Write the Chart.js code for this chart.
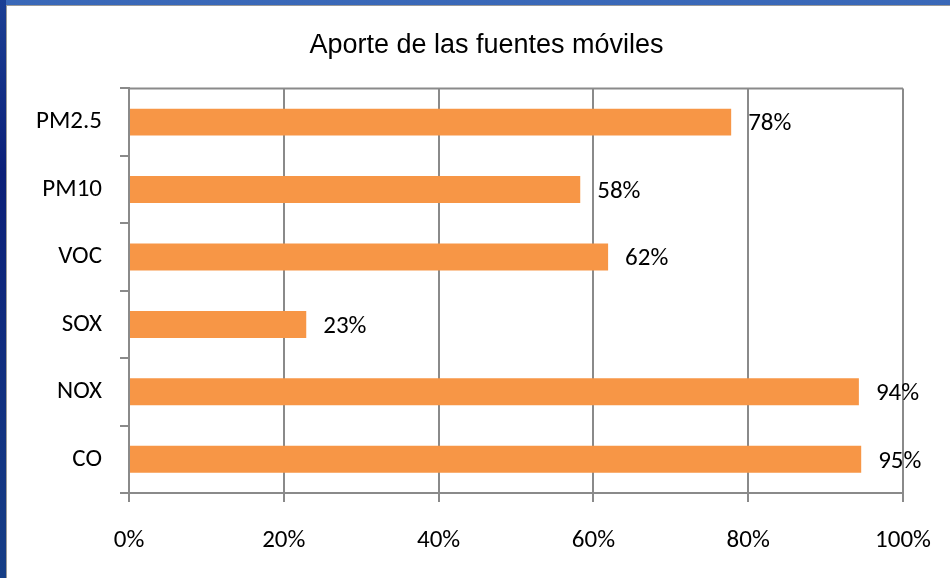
<!DOCTYPE html>
<html>
<head>
<meta charset="utf-8">
<script src="https://cdn.jsdelivr.net/npm/chart.js@4/dist/chart.umd.min.js"></script>
<style>
  html, body { margin: 0; padding: 0; overflow: hidden; }
  body {
    width: 950px; height: 578px; position: relative;
    background: linear-gradient(180deg, #3a68b8 0%, #2a55a8 40%, #17408e 100%);
  }
  #frame {
    position: absolute; left: 0; top: 0; width: 6px; height: 578px;
    background: linear-gradient(180deg, #1b3f94 0%, #0b1f78 30%, #163e86 100%);
  }
  #panel {
    position: absolute; left: 6px; top: 5px; width: 944px; height: 573px;
    background: #fff; border-left: 1px solid #9a9a9a; border-top: 1px solid #9a9a9a;
    box-sizing: border-box;
  }
  #wrap { position: absolute; left: 0; top: 0; width: 943px; height: 572px; }
</style>
</head>
<body>
<div id="frame"></div>
<div id="panel"><div id="wrap"><canvas id="myChart"></canvas></div></div>
<script>
const title = 'Aporte de las fuentes móviles';
const categories = ['PM2.5', 'PM10', 'VOC', 'SOX', 'NOX', 'CO'];
const values = [77.8, 58.3, 61.9, 22.9, 94.3, 94.6];
const xTicks = [0, 20, 40, 60, 80, 100];

const titleFont = "'Liberation Sans', Arial, sans-serif";
const labelFont = "Carlito, 'Liberation Sans Narrow', 'Arial Narrow', 'Liberation Sans', sans-serif";
const gridColor = '#8a8a8a';

// frame line on top of the plot area
const plotFrame = {
    id: 'plotFrame',
    beforeDatasetsDraw(chart) {
        const a = chart.chartArea;
        const ctx = chart.ctx;
        ctx.save();
        ctx.strokeStyle = gridColor;
        ctx.lineWidth = 2;
        ctx.beginPath();
        ctx.moveTo(a.left, a.top);
        ctx.lineTo(a.right, a.top);
        ctx.stroke();
        ctx.restore();
    }
};

// value labels at the end of each bar
const barLabels = {
    id: 'barLabels',
    afterDatasetsDraw(chart) {
        const ctx = chart.ctx;
        const meta = chart.getDatasetMeta(0);
        ctx.save();
        ctx.font = '25px ' + labelFont;
        ctx.fillStyle = '#000';
        ctx.textAlign = 'left';
        ctx.textBaseline = 'middle';
        meta.data.forEach((bar, i) => {
            ctx.fillText(Math.round(values[i]) + '%', bar.x + 17, bar.y + 2);
        });
        ctx.restore();
    }
};

const data = {
    labels: categories,
    datasets: [{
        data: values,
        backgroundColor: '#F79646',
        borderWidth: 0,
        barPercentage: 0.4,
        categoryPercentage: 1.0
    }]
};

const config = {
    type: 'bar',
    data: data,
    plugins: [plotFrame, barLabels],
    options: {
        indexAxis: 'y',
        responsive: true,
        maintainAspectRatio: false,
        animation: false,
        layout: { padding: { left: 16, right: 0, top: 0, bottom: 0 } },
        plugins: {
            legend: { display: false },
            tooltip: { enabled: false },
            title: {
                display: true,
                text: title,
                color: '#000',
                font: { family: titleFont, size: 27, weight: 'normal' },
                padding: { top: 23, bottom: 27 }
            }
        },
        scales: {
            x: {
                min: 0,
                max: 100,
                afterBuildTicks(scale) {
                    scale.ticks = xTicks.map(v => ({ value: v }));
                },
                afterFit(scale) {
                    scale.height = 85;
                    // the side axes already leave room for the end labels
                    scale.paddingLeft = 0;
                    scale.paddingRight = 0;
                },
                grid: {
                    color: gridColor,
                    lineWidth: 2,
                    drawTicks: true,
                    tickLength: 9,
                    tickColor: gridColor
                },
                border: { display: true, color: gridColor, width: 2 },
                ticks: {
                    color: '#000',
                    padding: 24,
                    maxRotation: 0,
                    font: { family: labelFont, size: 25 },
                    callback: v => v + '%'
                }
            },
            y: {
                afterFit(scale) { scale.width = 106; },
                grid: {
                    display: true,
                    offset: true,
                    drawOnChartArea: false,
                    drawTicks: true,
                    tickLength: 9,
                    color: gridColor,
                    lineWidth: 2
                },
                border: { display: true, color: gridColor, width: 2 },
                ticks: {
                    color: '#000',
                    padding: 18,
                    font: { family: labelFont, size: 25 }
                }
            },
            // empty right-hand axis that only reserves room right of the plot
            yRight: {
                type: 'category',
                position: 'right',
                afterFit(scale) { scale.width = 47; },
                grid: { display: false },
                border: { display: false },
                ticks: { display: false }
            }
        }
    }
};

const myChart = new Chart(document.getElementById('myChart'), config);
</script>
</body>
</html>
